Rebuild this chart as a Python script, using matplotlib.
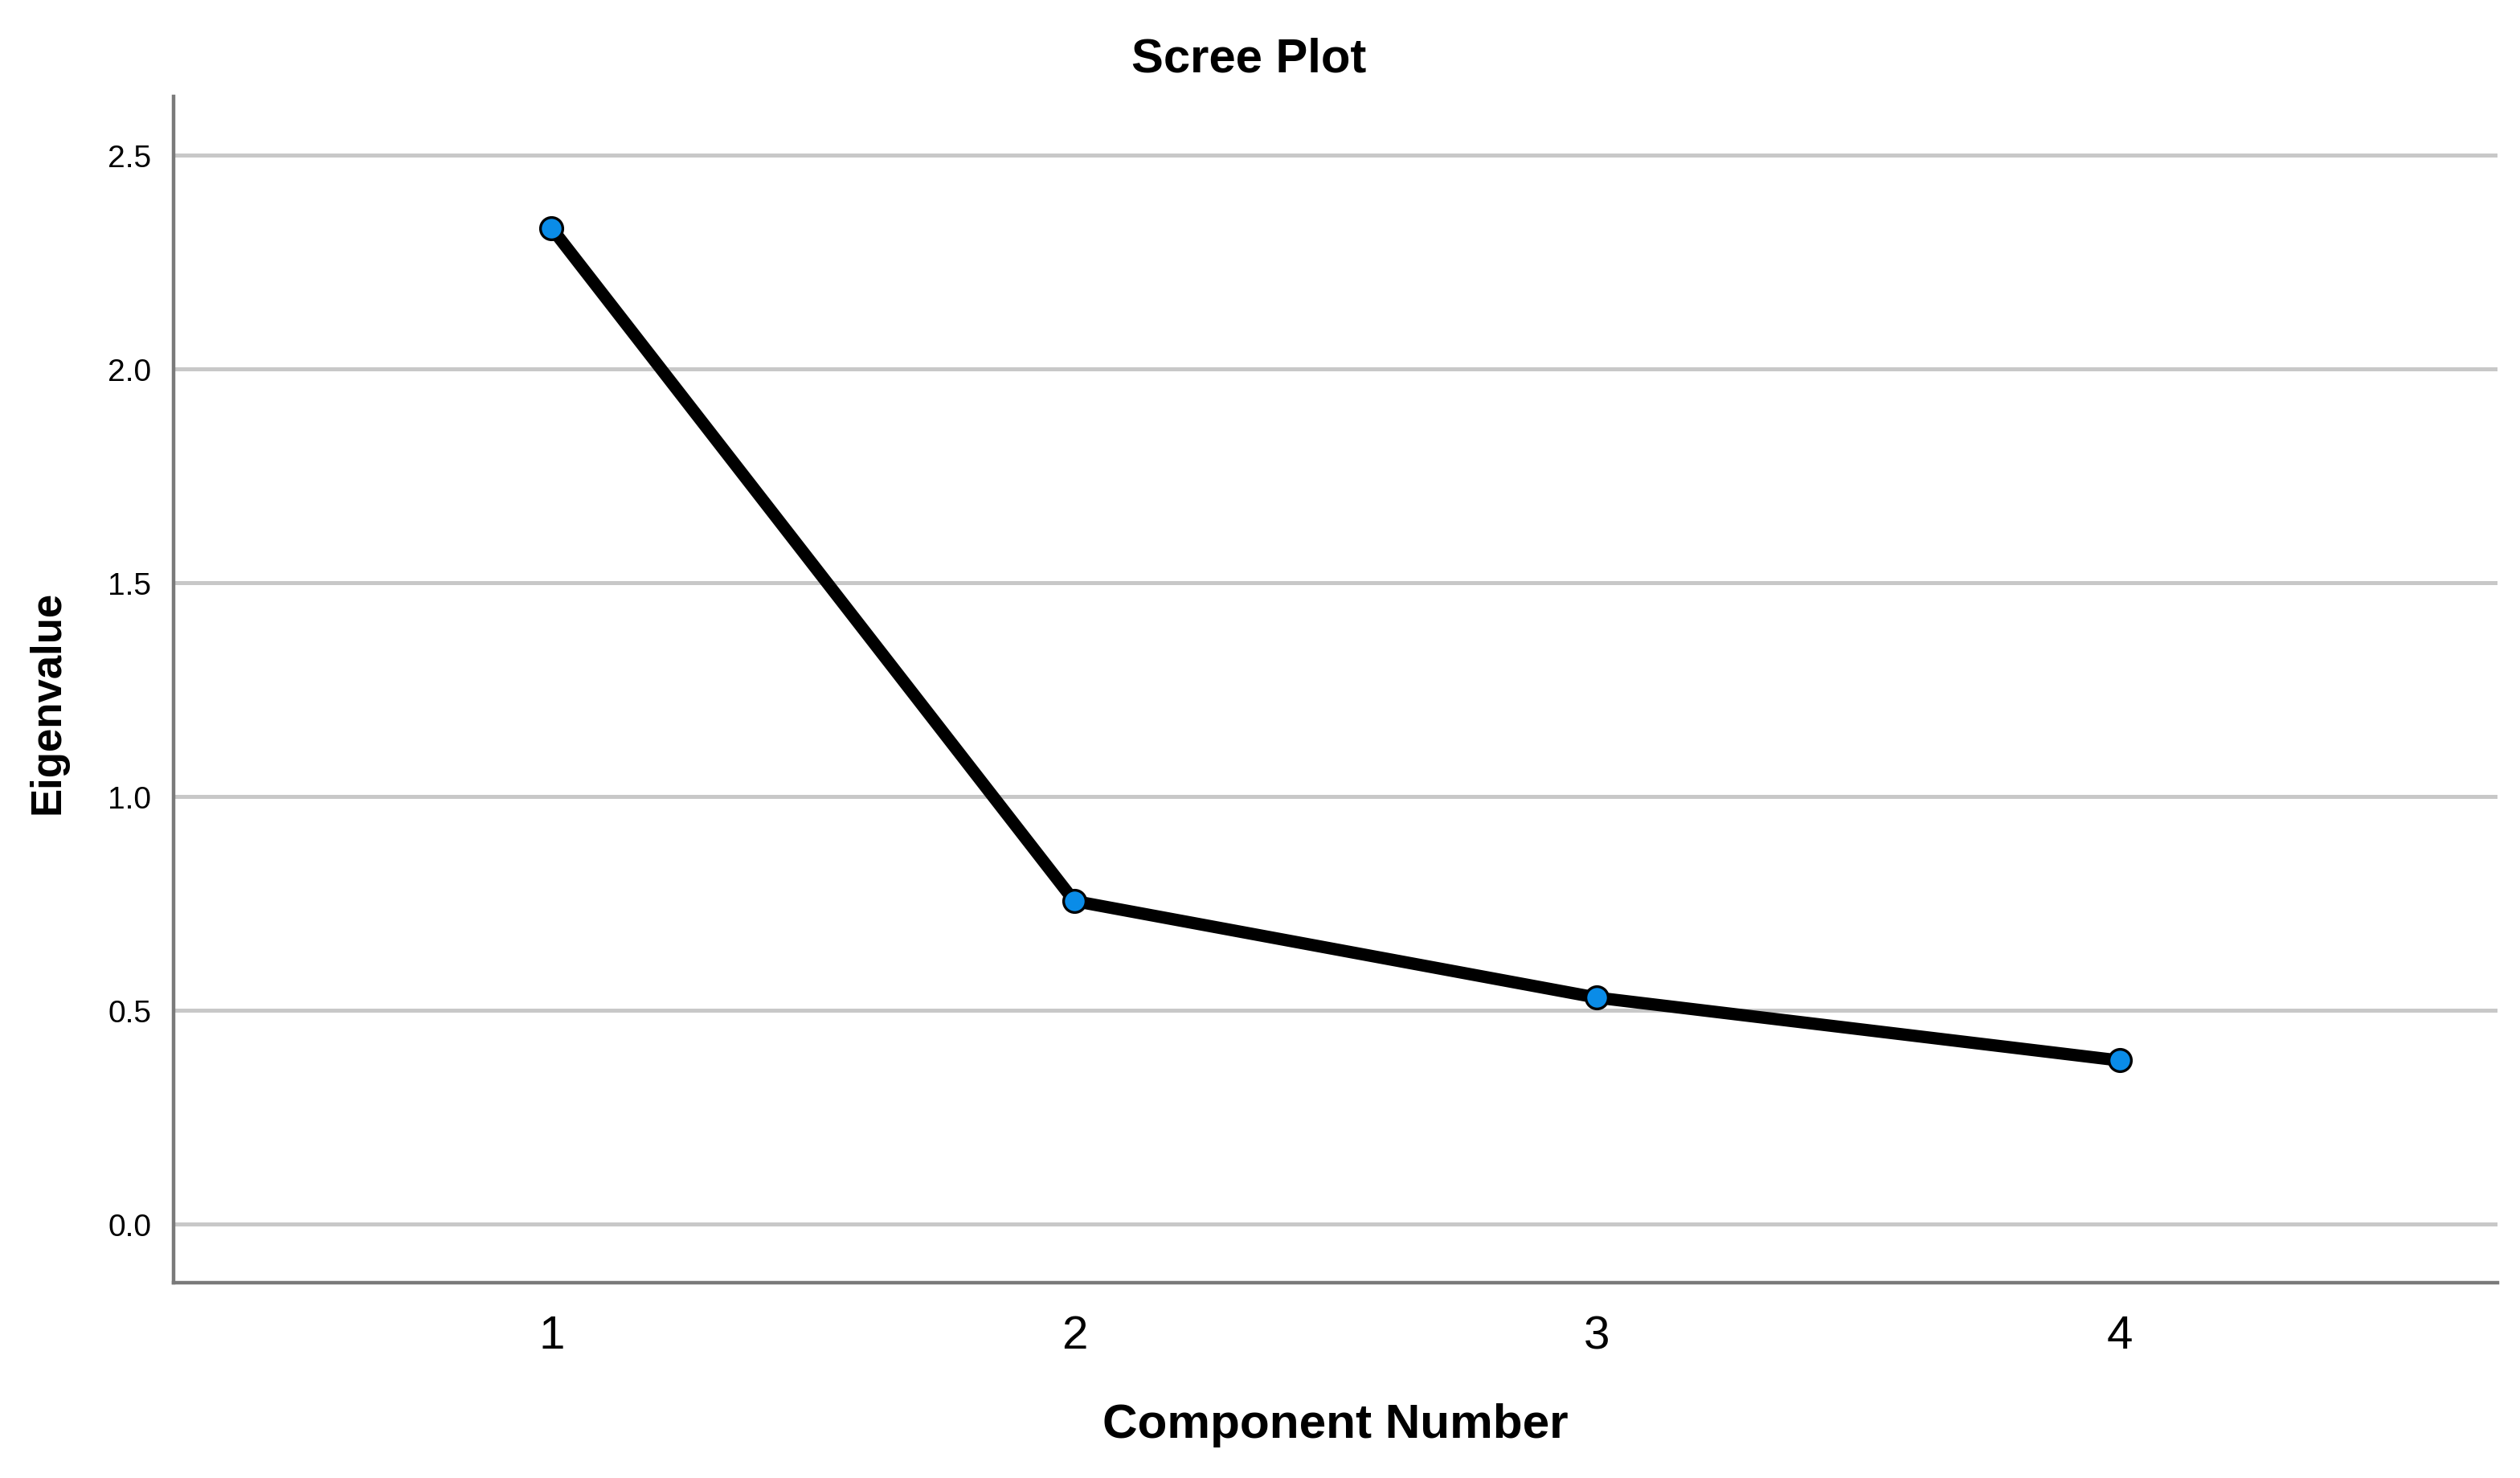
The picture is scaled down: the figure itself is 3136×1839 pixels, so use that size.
import matplotlib.pyplot as plt

# Scree plot values
components = [1, 2, 3, 4]
eigenvalues = [2.33, 0.756, 0.53, 0.383]
y_ticks = [0.0, 0.5, 1.0, 1.5, 2.0, 2.5]

narrow = ["Liberation Sans Narrow", "Liberation Sans", "DejaVu Sans"]
plt.rcParams["font.family"] = ["Liberation Sans", "DejaVu Sans"]

fig = plt.figure(figsize=(15.68, 9.2), dpi=200)
ax = fig.add_axes([0.0689, 0.132, 0.9222, 0.802])

ax.plot(components, eigenvalues, color="black", lw=5.5, solid_capstyle="round",
        marker="o", markersize=10, markerfacecolor="#0a8ce8",
        markeredgecolor="black", markeredgewidth=1.2, zorder=3)

ax.set_xlim(0.277, 4.723)
ax.set_ylim(-0.137, 2.637)
ax.set_yticks(y_ticks)
ax.set_yticklabels([f"{v:.1f}" for v in y_ticks], fontsize=14)
ax.set_xticks(components)
ax.set_xticklabels([str(c) for c in components], fontsize=21,
                   family=narrow)
ax.tick_params(axis="both", length=0)
ax.tick_params(axis="y", pad=10)
ax.tick_params(axis="x", pad=14)

ax.grid(axis="y", color="#c8c8c8", lw=1.8)
ax.set_axisbelow(True)
for side in ["top", "right"]:
    ax.spines[side].set_visible(False)
for side in ["left", "bottom"]:
    ax.spines[side].set_color("#7a7a7a")
    ax.spines[side].set_linewidth(1.6)

fig.text(0.4955, 0.96, "Scree Plot", ha="center", va="center",
         fontsize=21.5, fontweight="bold", family=narrow)
fig.text(0.53, 0.036, "Component Number", ha="center", va="center",
         fontsize=21.7, fontweight="bold", family=narrow)
fig.text(0.019, 0.525, "Eigenvalue", ha="center", va="center",
         rotation=90, fontsize=19, fontweight="bold", family=narrow)

fig.savefig("out.png", dpi=200)
